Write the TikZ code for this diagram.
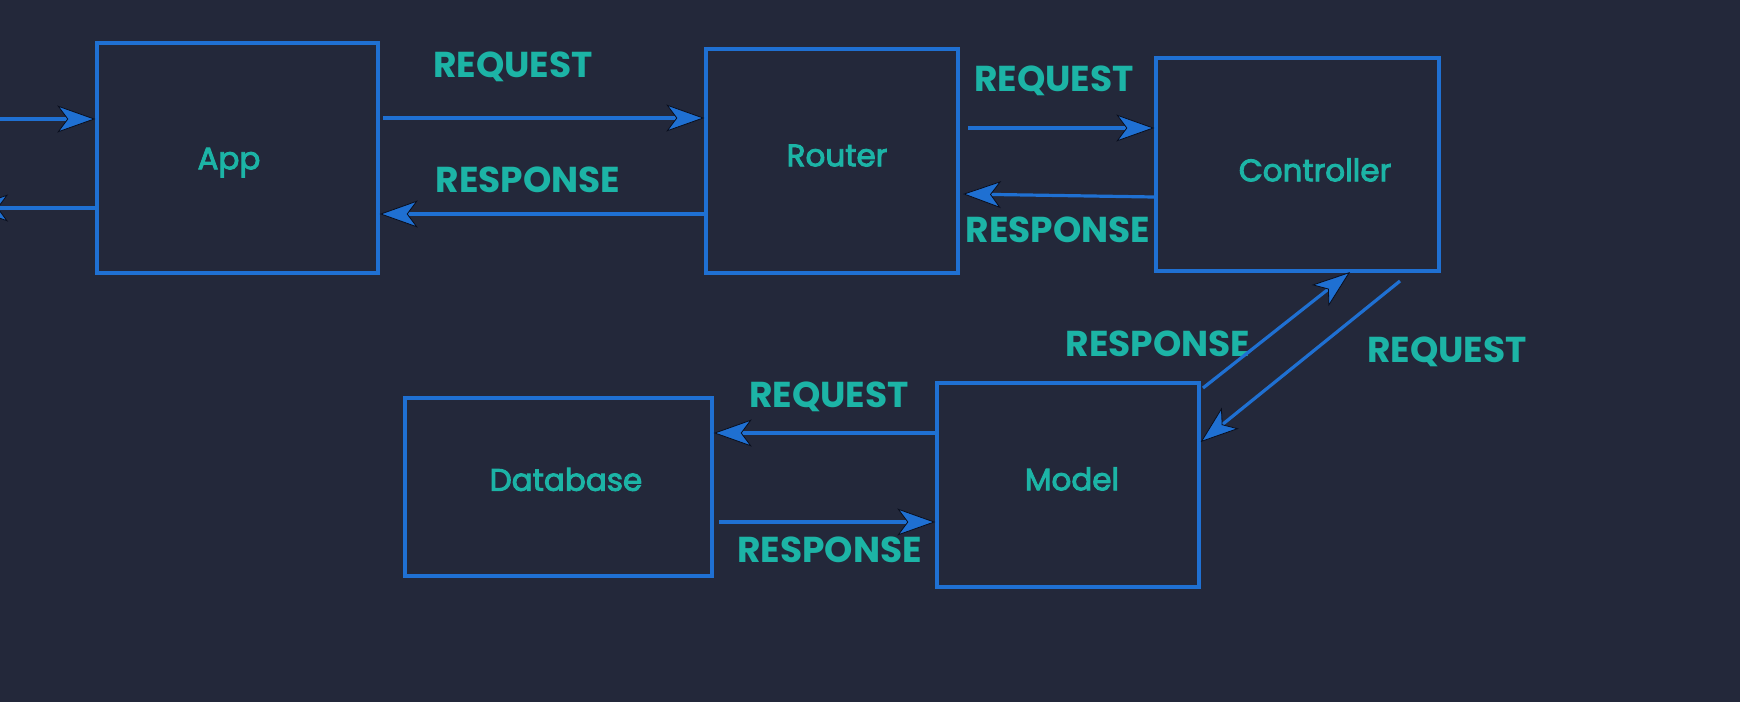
\documentclass[tikz,border=0pt]{standalone}
\usepackage{fontspec}
\setmainfont{Poppins}
\newfontfamily\namefont{Poppins}[FakeBold=3]
\usetikzlibrary{arrows.meta}
\definecolor{bgcol}{RGB}{35,40,58}
\definecolor{linecol}{RGB}{31,112,210}
\definecolor{textcol}{RGB}{28,180,166}
\definecolor{tipedge}{RGB}{10,14,28}
\tikzset{
  box/.style={draw=linecol, line width=3.4pt, rectangle, inner sep=0pt},
  txt/.style={text=textcol, inner sep=0pt, font=\namefont\fontsize{31}{38}\selectfont, text height=21.5pt, text depth=0pt},
  lbl/.style={text=textcol, inner sep=0pt, font=\bfseries\fontsize{36}{42}\selectfont, text height=25pt, text depth=0pt},
  arr/.style={draw=linecol, line width=3.2pt,
    -{Stealth[length=38pt, width=27pt, inset=10pt, fill=linecol, color=tipedge, line width=0.8pt]}}
}
\begin{document}
\begin{tikzpicture}[x=1pt, y=-1pt]
\fill[bgcol] (0,0) rectangle (1740,702);
\useasboundingbox (0,0) rectangle (1740,702);

% boxes
\node[box, minimum width=281pt, minimum height=230pt] (app) at (237.5,158) {};
\node[box, minimum width=252pt, minimum height=224pt] (router) at (832,161) {};
\node[box, minimum width=283pt, minimum height=213pt] (ctrl) at (1297.5,164.5) {};
\node[box, minimum width=307pt, minimum height=178pt] (db) at (558.5,487) {};
\node[box, minimum width=262pt, minimum height=204pt] (model) at (1068,485) {};

% box texts
\node[txt] (appT) at (229,158.5) {App};
\node[txt] (routerT) at (837,155.5) {Router};
\node[txt] (ctrlT) at (1315,170.5) {Controller};
\node[txt] (dbT) at (566,480) {Database};
\node[txt] (modelT) at (1072,479.5) {Model};

% connector labels
\node[lbl] (l1) at (513,64.5) {REQUEST};
\node[lbl] (l2) at (528,179.5) {RESPONSE};
\node[lbl] (l3) at (1054,79) {REQUEST};
\node[lbl] (l4) at (1058,229.5) {RESPONSE};
\node[lbl] (l5) at (1158,344) {RESPONSE};
\node[lbl] (l6) at (1447,349.5) {REQUEST};
\node[lbl] (l7) at (829,394.5) {REQUEST};
\node[lbl] (l8) at (829.5,550) {RESPONSE};

% free ends
\coordinate (in1) at (0,119);
\coordinate (out1) at (-30,208);
\coordinate (a1) at (383,118);
\coordinate (b1) at (968,128);
\coordinate (b2) at (963,194);
\coordinate (c1) at (1203,388);
\coordinate (c2) at (1350,272);
\coordinate (d1) at (1400,281);
\coordinate (e1) at (719,522);

% connectors
\draw[arr] (in1) -- (app.west |- in1);
\draw[arr] (app.west |- 0,208) -- (out1);
\draw[arr] (a1) -- (router.west |- a1);
\draw[arr] (router.west |- 0,214) -- (app.east |- 0,214);
\draw[arr] (b1) -- (ctrl.west |- b1);
\draw[arr] (ctrl.west |- 0,197) -- (b2);
\draw[arr] (c1) -- (c2);
\draw[arr] (d1) -- (model.east |- 0,442);
\draw[arr] (model.west |- 0,433) -- (db.east |- 0,433);
\draw[arr] (e1) -- (model.west |- e1);
\end{tikzpicture}
\end{document}
